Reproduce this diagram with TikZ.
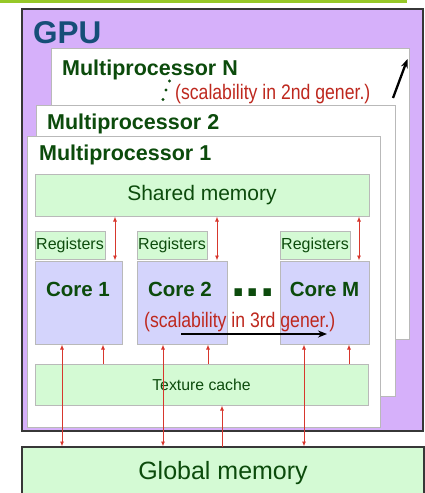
\documentclass[tikz,border=0pt]{standalone}
\usepackage{fontspec}
\setmainfont{Liberation Sans}
\newfontfamily\narrowfont[FakeStretch=0.84]{Liberation Sans}
\usetikzlibrary{arrows.meta}
\definecolor{topgreen}{RGB}{150,200,40}
\definecolor{gpufill}{RGB}{214,176,250}
\definecolor{gpublue}{RGB}{22,78,120}
\definecolor{dkgreen}{RGB}{12,75,12}
\definecolor{lgreen}{RGB}{212,250,212}
\definecolor{lcore}{RGB}{212,212,252}
\definecolor{bgrey}{RGB}{185,185,185}
\definecolor{dkborder}{RGB}{55,55,55}
\definecolor{redtxt}{RGB}{190,40,30}
\definecolor{redline}{RGB}{215,55,45}
\tikzset{
  box/.style={rectangle, inner sep=0pt, outer sep=0pt, anchor=north west, draw=bgrey, line width=1pt},
  mpbox/.style={box, fill=white},
  gbox/.style={box, fill=lgreen, text=dkgreen},
  corebox/.style={box, fill=lcore},
  mptext/.style={anchor=base west, inner sep=0pt, text=dkgreen, font=\fontsize{21.5}{24}\selectfont\bfseries},
  coretext/.style={anchor=base, inner sep=0pt, text=dkgreen, font=\fontsize{20.5}{23}\selectfont\bfseries},
  scal/.style={anchor=base west, inner sep=0pt, text=redtxt, font=\narrowfont\fontsize{21}{24}\selectfont},
  reg/.style={gbox, minimum width=70pt, minimum height=28pt, font=\fontsize{16}{18}\selectfont},
  rtip/.tip={Latex[length=5pt,width=4pt]},
  rarrow/.style={draw=redline, line width=0.9pt, rtip-rtip, shorten <=0.5pt, shorten >=0.5pt},
  uparrow/.style={draw=redline, line width=0.9pt, -rtip, shorten >=0.5pt},
  blackarrow/.style={draw=black, line width=2.3pt, -{Stealth[length=9pt,width=7pt]}},
  dotmark/.style={circle, fill=dkgreen, inner sep=0pt, minimum size=3.4pt}
}
\begin{document}
\begin{tikzpicture}[x=1pt,y=-1pt]
\useasboundingbox (0,0) rectangle (425,493);
\clip (0,0) rectangle (425,493);
% top line
\fill[topgreen] (0,0) rectangle (407,2.6);
% GPU
\node[box, fill=gpufill, draw=dkborder, line width=1.5pt, minimum width=401pt, minimum height=422pt] (gpu) at (22,9) {};
\node[anchor=base west, inner sep=0pt, text=gpublue, font=\fontsize{31.5}{34}\selectfont\bfseries] (gputxt) at (33,43) {GPU};
% Multiprocessor N
\node[mpbox, minimum width=358pt, minimum height=291pt] (mpn) at (51,48) {};
\node[mptext] (mpntxt) at (62,75) {Multiprocessor N};
\node[dotmark] (d1) at (169.5,81) {};
\node[dotmark] (d2) at (166,90) {};
\node[dotmark] (d3) at (163,99.5) {};
\node[scal] (scal2) at (175,99) {(scalability in 2nd gener.)};
\coordinate (a2s) at (393,98);
\coordinate (a2e) at (407.5,59);
\draw[blackarrow] (a2s) -- (a2e);
% Multiprocessor 2
\node[mpbox, minimum width=359pt, minimum height=291pt] (mp2) at (36,105) {};
\node[mptext] (mp2txt) at (47,129) {Multiprocessor 2};
% Multiprocessor 1
\node[mpbox, minimum width=353pt, minimum height=291pt] (mp1) at (27,136) {};
\node[mptext] (mp1txt) at (39,160) {Multiprocessor 1};
% Shared memory
\node[gbox, minimum width=334pt, minimum height=42pt, font=\fontsize{21}{24}\selectfont] (sm) at (35,174) {Shared memory};
% Registers
\node[reg] (r1) at (35,231) {Registers};
\node[reg] (r2) at (137,231) {Registers};
\node[reg] (r3) at (280,231) {Registers};
% Cores
\node[corebox, minimum width=87pt, minimum height=83pt] (c1) at (35,261) {};
\node[corebox, minimum width=90pt, minimum height=83pt] (c2) at (137,261) {};
\node[corebox, minimum width=89pt, minimum height=83pt] (cm) at (280,261) {};
\node[coretext] (c1t) at (78,296) {Core 1};
\node[coretext] (c2t) at (180,296) {Core 2};
\node[coretext] (cmt) at (324.5,296) {Core M};
\node[anchor=base, inner sep=0pt, text=dkgreen, font=\fontsize{52}{56}\selectfont\bfseries] (dots) at (253,296.5) {...};
% Texture cache
\node[gbox, minimum width=333pt, minimum height=41pt, font=\fontsize{15.8}{18}\selectfont] (tc) at (35,364) {Texture cache};
% Global memory
\node[box, fill=lgreen, text=dkgreen, draw=dkborder, line width=1.5pt, minimum width=402pt, minimum height=53pt, font=\fontsize{25}{28}\selectfont] (gm) at (22,447) {Global memory};
% x positions
\coordinate (xa) at (115,0);
\coordinate (xb) at (217,0);
\coordinate (xc) at (359,0);
\coordinate (xd) at (103,0);
\coordinate (xe) at (208,0);
\coordinate (xf) at (349,0);
\coordinate (xg) at (62,0);
\coordinate (xh) at (163,0);
\coordinate (xi) at (304,0);
\coordinate (xj) at (222,0);
% shared memory <-> cores
\draw[rarrow] (sm.south -| xa) -- (c1.north -| xa);
\draw[rarrow] (sm.south -| xb) -- (c2.north -| xb);
\draw[rarrow] (sm.south -| xc) -- (cm.north -| xc);
% texture -> cores
\draw[uparrow] (tc.north -| xd) -- (c1.south -| xd);
\draw[uparrow] (tc.north -| xe) -- (c2.south -| xe);
\draw[uparrow] (tc.north -| xf) -- (cm.south -| xf);
% cores <-> global
\draw[rarrow] (c1.south -| xg) -- (gm.north -| xg);
\draw[rarrow] (c2.south -| xh) -- (gm.north -| xh);
\draw[rarrow] (cm.south -| xi) -- (gm.north -| xi);
% global -> texture
\draw[uparrow] (gm.north -| xj) -- (tc.south -| xj);
% 3rd generation
\node[scal] (scal3) at (144,327) {(scalability in 3rd gener.)};
\coordinate (a3s) at (181,334);
\coordinate (a3e) at (327,334);
\draw[blackarrow] (a3s) -- (a3e);
\end{tikzpicture}
\end{document}
